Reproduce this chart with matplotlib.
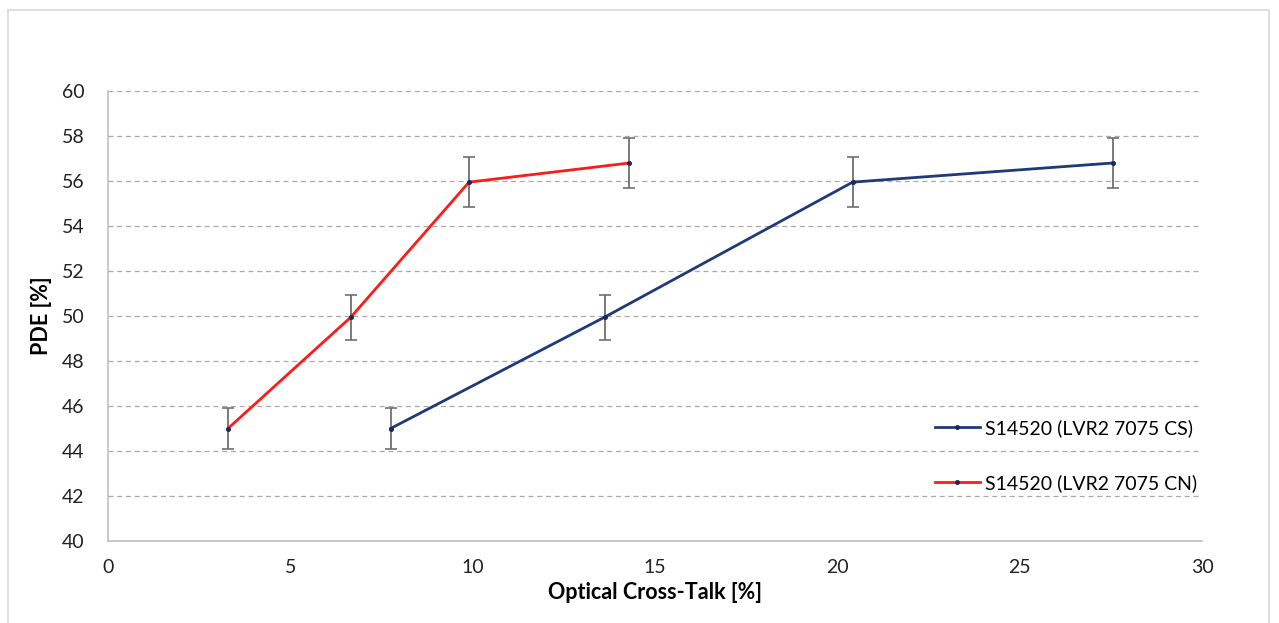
import matplotlib
matplotlib.use("Agg")
import matplotlib.pyplot as plt
from matplotlib.patches import Rectangle

plt.rcParams['font.family'] = ['Lato', 'DejaVu Sans']

# Data
cs_x = [7.75, 13.62, 20.42, 27.55]
cn_x = [3.29, 6.66, 9.9, 14.3]
pde = [45.0, 49.95, 55.95, 56.8]
pde_err = [0.9, 1.0, 1.1, 1.1]

cs_label = "S14520 (LVR2 7075 CS)"
cn_label = "S14520 (LVR2 7075 CN)"
x_ticks = [0, 5, 10, 15, 20, 25, 30]
y_ticks = [40, 42, 44, 46, 48, 50, 52, 54, 56, 58, 60]

fig = plt.figure(figsize=(12.79, 6.23), dpi=100)
ax = fig.add_axes([108/1279, 82/623, 1094/1279, 450/623])

# outer chart border
fig.patches.append(Rectangle((8/1279, -0.05), 1269/1279 - 8/1279, 1.05 - 10/623,
                             transform=fig.transFigure, fill=False,
                             edgecolor='#d9d9d9', linewidth=1.2))

navy = '#1f3a78'
navy_marker = '#1a2a5e'

for xs, col, lab in [(cs_x, navy, cs_label), (cn_x, '#ff1a1a', cn_label)]:
    ax.errorbar(xs, pde, yerr=pde_err, fmt='none', ecolor='#6f6f6f',
                elinewidth=1.3, capsize=4, capthick=1.2, zorder=2)
    ax.plot(xs, pde, color=col, linewidth=2, marker='o', markersize=2.6,
            markerfacecolor=navy_marker, markeredgecolor=navy_marker,
            label=lab, zorder=3)

ax.set_xlim(0, 30)
ax.set_ylim(40, 60)
ax.set_xticks(x_ticks)
ax.set_yticks(y_ticks)
ax.tick_params(axis='both', length=0, labelsize=14, colors='#222222')
ax.tick_params(axis='x', pad=13)
ax.tick_params(axis='y', pad=17)
ax.grid(axis='y', linestyle=(0, (4, 3)), color='#aaaaaa', linewidth=0.9)
ax.set_axisbelow(True)
for s in ['top', 'right']:
    ax.spines[s].set_visible(False)
for s in ['left', 'bottom']:
    ax.spines[s].set_color('#c0c0c0')
    ax.spines[s].set_linewidth(1.2)

ax.set_xlabel("Optical Cross-Talk [%]", fontsize=15.5, fontweight='bold', labelpad=4)
ax.set_ylabel("PDE [%]", fontsize=15.5, fontweight='bold', labelpad=7)

ax.legend(loc='upper left', bbox_to_anchor=(0.74, 0.31), frameon=False,
          fontsize=14, handlelength=2.3, handletextpad=0.25, labelspacing=1.9)

fig.savefig("out.png", dpi=100)
